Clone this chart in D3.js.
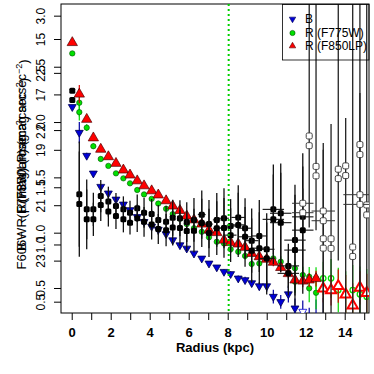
<!DOCTYPE html>
<html>
<head>
<meta charset="utf-8">
<script src="https://cdn.jsdelivr.net/npm/d3@7"></script>
<style>
	body { margin: 0; background: #fff; }
	svg { display: block; font-family: "Liberation Sans", Arial, sans-serif; }
</style>
</head>
<body>
<div class="chart"><svg></svg></div>
<script>
(function() {

	//DATA
	// radii of the R / B profile points (kpc)
	var radius = [0.03,0.39,0.77,1.11,1.49,1.88,2.27,2.65,2.99,3.36,3.71,4.10,4.44,4.84,5.18,5.55,5.90,6.27,6.67,7.04,7.44,7.81,8.15,8.54,8.89,9.23,9.62,10.00,10.34,10.72,11.11,11.45,11.85,12.18,12.53,12.90,13.30,13.67,14.05,14.41,14.78,15.13];

	var redMag = [15.13,16.99,17.90,18.57,18.98,19.25,19.49,19.73,19.91,20.12,20.30,20.48,20.63,20.84,21.03,21.19,21.39,21.53,21.68,21.90,21.99,22.26,22.35,22.40,22.52,22.74,22.86,22.95,23.06,23.25,23.47,23.70,23.74,23.70,23.65,24.01,24.07,23.92,24.22,24.62,23.98,24.17];
	var redErr = [0.05,0.33,0.08,0.06,0.05,0.05,0.05,0.05,0.05,0.05,0.05,0.05,0.05,0.05,0.05,0.06,0.06,0.06,0.07,0.07,0.08,0.08,0.09,0.10,0.10,0.11,0.12,0.13,0.14,0.15,0.17,0.20,0.22,0.25,0.28,0.50,0.55,0.60,0.70,0.80,0.60,0.70];

	var greenMag = [15.52,17.30,18.20,18.87,19.33,19.58,19.85,20.03,20.21,20.45,20.61,20.77,20.94,21.13,21.32,21.49,21.68,21.83,21.96,22.16,22.32,22.38,22.59,22.68,22.83,23.12,23.10,22.92,22.92,23.04,23.22,23.28,23.52,23.58,23.64,23.64,23.64,24.06,24.18,24.06,24.21,24.30];
	var greenErr = [0.05,0.50,0.12,0.10,0.08,0.07,0.06,0.06,0.06,0.06,0.06,0.06,0.06,0.06,0.07,0.07,0.07,0.08,0.08,0.09,0.10,0.10,0.11,0.12,0.13,0.15,0.15,0.17,0.18,0.20,0.22,0.25,0.30,0.35,0.40,0.60,0.70,0.80,0.80,0.90,1.00,1.00];
	var greenExtraR = [0.39,11.45,12.18,12.53];
	var greenExtraMag = [17.64,23.76,24.00,24.16];
	var greenExtraErr = [0.30,0.40,0.50,0.60];

	var blueMag = [17.45,18.38,19.21,19.85,20.33,20.57,20.79,20.97,21.17,21.42,21.60,21.77,21.88,22.04,22.26,22.44,22.56,22.74,22.92,23.10,23.24,23.40,23.48,23.64,23.70,23.81,23.92,23.92,24.30,24.49,24.21,24.72,24.84,25.30,25.30,25.40];
	var blueErr = [0.05,0.38,0.10,0.08,0.06,0.05,0.05,0.05,0.05,0.05,0.05,0.05,0.05,0.05,0.06,0.06,0.06,0.07,0.07,0.08,0.08,0.09,0.10,0.10,0.12,0.13,0.15,0.20,0.25,0.25,0.30,0.35,0.40,0.60,0.90,1.05];

	// colour profile, two estimates per radius (plotted on the mag scale)
	var black1 = [16.87,20.60,21.15,21.15,20.67,20.87,21.03,21.15,21.27,21.11,21.27,21.32,21.53,21.60,21.45,21.47,21.61,21.53,21.34,21.68,21.53,21.47,21.75,21.44,21.83,22.28,22.11,22.59,21.15,21.29,23.19,22.26,21.42];
	var black2 = [17.20,20.96,21.51,21.51,20.99,21.23,21.39,21.51,21.63,21.47,21.60,21.70,21.86,21.90,21.80,21.82,21.93,21.92,21.64,22.00,21.83,21.82,22.08,21.71,22.14,22.64,22.55,22.92,21.51,21.63,23.46,22.62,21.90];
	var blackErr = [0,1.90,1.08,0.60,0.58,0.54,0.47,0.47,0.43,0.50,0.54,0.54,0.54,0.58,0.65,0.65,0.72,0.79,0.87,0.87,0.97,1.08,0.97,1.16,1.08,1.16,1.30,1.30,1.62,1.80,0.80,2.00,2.30];
	var blackXErr = [0,0,0,0,0,0,0,0,0,0,0,0,0,0,0,0,0,0,0.20,0.20,0.20,0.25,0.30,0.35,0.35,0.35,0.40,0.40,0.55,0.55,0.55,0.55,0.55];

	// low S/N colour points (open squares)
	var openR = [11.85,12.18,12.53,12.90,12.90,13.30,13.67,14.05,14.41,14.78,14.78,15.13];
	var openY1 = [20.93,18.50,19.60,21.21,22.21,22.21,19.70,19.58,22.51,18.81,20.62,20.99];
	var openY2 = [21.27,18.85,19.94,21.56,22.55,22.56,20.04,19.93,22.85,19.17,20.97,21.35];
	var openLo = [20.40,13.50,13.50,18.75,19.00,18.07,13.50,17.85,13.50,16.95,13.50,13.50];
	var openHi = [21.80,21.80,21.90,25.00,25.00,25.00,23.00,25.00,25.00,25.00,25.00,25.00];
	var openXErr = [0.55,0,0,0.60,0,0,0,0,0,0,0.85,0];

	var xTicks = [0,1,2,3,4,5,6,7,8,9,10,11,12,13,14,15];
	var magTicks = [15,17,19,21,23];
	var colTicksA = [0.5,1.0,1.5,2.0,2.5,3.0];
	var colTicksB = [0.5,1.0,1.5,2.0,2.5];
	var solarRadius = 8.05;
	var legendLabels = ['B', 'R (F775W)', 'R (F850LP)'];
	var yLabels = ['F606W \u2212 R(F850LP) (mag arcsec', 'B \u2212 R(F775W) (mag arcsec', '\u03bc (mag arcsec'];

	//VARS
	var W = 374, H = 374;
	var box = { left: 61, top: 4, right: 369, bottom: 313 };
	var openFrom = 12.7;
	var colors = { blue: '#0000d8', blueEdge: '#000050', blueBar: '#0000a0',
		green: '#00e000', greenEdge: '#005000', greenBar: '#00d800',
		red: '#ff0000', redEdge: '#500000', redBar: '#e00000' };

	var svg = d3.select('.chart svg').attr('width', W).attr('height', H);

	var x = d3.scaleLinear().domain([-0.549, 15.246]).range([box.left, box.right]);
	var y = d3.scaleLinear().domain([13.736, 24.891]).range([box.top, box.bottom]);
	var yColA = d3.scaleLinear().domain([0.401, 3.102]).range([box.bottom, box.top]);
	var yColB = d3.scaleLinear().domain([0.274, 3.067]).range([box.bottom, box.top]);

	var triUp = d3.symbol().type(d3.symbolTriangle).size(46)();
	var triDown = d3.symbol().type(d3.symbolTriangle).size(27)();

	// AXES
	function drawYAxis(scale, ticks, fmt) {
		var g = svg.append('g')
			.attr('class', 'axis axis--y')
			.attr('transform', 'translate(' + box.left + ',0)')
			.call(d3.axisLeft(scale).tickValues(ticks).tickFormat(fmt).tickSize(7).tickSizeOuter(0));
		g.select('.domain').remove();
		g.attr('font-family', null).attr('font-size', 12);
		g.selectAll('.tick line').attr('stroke', '#000');
		g.selectAll('.tick text')
			.attr('x', 0).attr('dy', 0)
			.attr('fill', '#000')
			.attr('text-anchor', 'middle')
			.attr('transform', 'translate(-16,0) rotate(-90)');
	}

	function drawAxes() {
		var axisX = d3.axisBottom(x)
			.tickValues(xTicks)
			.tickSize(7)
			.tickSizeOuter(0)
			.tickPadding(8)
			.tickFormat(function(d) { return d % 2 === 0 ? d : ''; });

		var gx = svg.append('g')
			.attr('class', 'axis axis--x')
			.attr('transform', 'translate(0,' + box.bottom + ')')
			.call(axisX);
		gx.select('.domain').remove();
		gx.attr('font-family', null).attr('font-size', 13).attr('font-weight', 'bold');
		gx.selectAll('.tick line').attr('stroke', '#000');
		gx.selectAll('.tick text').attr('fill', '#000');

		drawYAxis(y, magTicks, d3.format('d'));
		drawYAxis(yColA, colTicksA, d3.format('.1f'));
		drawYAxis(yColB, colTicksB, d3.format('.1f'));

		svg.append('text')
			.attr('x', (box.left + box.right) / 2)
			.attr('y', 352)
			.attr('text-anchor', 'middle')
			.attr('font-size', 13)
			.attr('font-weight', 'bold')
			.text('Radius (kpc)');

		// three overlapping y titles, as in the original
		var cy = (box.top + box.bottom) / 2 + 6;
		yLabels.forEach(function(lab) {
			var t = svg.append('text')
				.attr('text-anchor', 'middle')
				.attr('font-size', 13)
				.attr('transform', 'translate(26,' + cy + ') rotate(-90)');
			t.append('tspan').text(lab);
			t.append('tspan').attr('dy', '-0.45em').attr('font-size', 9).text('\u22122');
			t.append('tspan').attr('dy', '0.45em').text(')');
		});

		svg.append('rect')
			.attr('x', box.left).attr('y', box.top)
			.attr('width', box.right - box.left).attr('height', box.bottom - box.top)
			.attr('fill', 'none').attr('stroke', '#000');
	}

	// MARKS
	function vBars(g, rs, vals, errs, color, w) {
		g.append('g').selectAll('line')
			.data(vals)
			.enter().append('line')
			.attr('x1', function(d, i) { return x(rs[i]); })
			.attr('x2', function(d, i) { return x(rs[i]); })
			.attr('y1', function(d, i) { return y(d - errs[i]); })
			.attr('y2', function(d, i) { return y(d + errs[i]); })
			.attr('stroke', color)
			.attr('stroke-width', w);
	}

	function hBars(g, rs, vals, errs, color, w) {
		g.append('g').selectAll('line')
			.data(vals)
			.enter().append('line')
			.attr('x1', function(d, i) { return x(rs[i] - errs[i]); })
			.attr('x2', function(d, i) { return x(rs[i] + errs[i]); })
			.attr('y1', function(d) { return y(d); })
			.attr('y2', function(d) { return y(d); })
			.attr('stroke', color)
			.attr('stroke-width', w);
	}

	function squares(g, rs, vals, fill, stroke) {
		g.append('g').selectAll('rect')
			.data(vals)
			.enter().append('rect')
			.attr('x', function(d, i) { return x(rs[i]) - 3; })
			.attr('y', function(d) { return y(d) - 3; })
			.attr('width', 6).attr('height', 6).attr('rx', 1.5)
			.attr('fill', fill)
			.attr('stroke', stroke)
			.attr('stroke-width', 1);
	}

	function drawPoints() {
		svg.append('clipPath').attr('id', 'plot-clip')
			.append('rect')
			.attr('x', box.left).attr('y', box.top)
			.attr('width', box.right - box.left).attr('height', box.bottom - box.top);

		var g = svg.append('g').attr('clip-path', 'url(#plot-clip)');

		// B
		vBars(g, radius, blueMag, blueErr, colors.blueBar, 1.2);
		g.append('g').selectAll('path')
			.data(blueMag)
			.enter().append('path')
			.attr('d', triDown)
			.attr('transform', function(d, i) { return 'translate(' + x(radius[i]) + ',' + y(d) + ') rotate(180)'; })
			.attr('fill', function(d, i) { return radius[i] > 11.8 ? '#fff' : colors.blue; })
			.attr('stroke', function(d, i) { return radius[i] > 11.8 ? colors.blue : colors.blueEdge; })
			.attr('stroke-width', 0.8);

		// R (F775W)
		vBars(g, radius, greenMag, greenErr, colors.greenBar, 1.2);
		vBars(g, greenExtraR, greenExtraMag, greenExtraErr, colors.greenBar, 1.2);
		var greens = greenMag.map(function(d, i) { return { r: radius[i], m: d }; })
			.concat(greenExtraMag.map(function(d, i) { return { r: greenExtraR[i], m: d }; }));
		g.append('g').selectAll('circle')
			.data(greens)
			.enter().append('circle')
			.attr('cx', function(d) { return x(d.r); })
			.attr('cy', function(d) { return y(d.m); })
			.attr('r', 2.7)
			.attr('fill', function(d) { return d.r > openFrom ? 'none' : colors.green; })
			.attr('stroke', function(d) { return d.r > openFrom ? colors.green : colors.greenEdge; })
			.attr('stroke-width', function(d) { return d.r > openFrom ? 1.3 : 0.6; });

		// R (F850LP)
		vBars(g, radius, redMag, redErr, colors.redBar, 1.2);
		g.append('g').selectAll('path')
			.data(redMag)
			.enter().append('path')
			.attr('d', triUp)
			.attr('transform', function(d, i) { return 'translate(' + x(radius[i]) + ',' + y(d) + ')'; })
			.attr('fill', function(d, i) { return radius[i] > openFrom ? '#fff' : colors.red; })
			.attr('stroke', function(d, i) { return radius[i] > openFrom ? colors.red : colors.redEdge; })
			.attr('stroke-width', function(d, i) { return radius[i] > openFrom ? 2 : 0.7; });

		// colour profile, filled
		var blackR = radius.slice(0, black1.length);
		[black1, black2].forEach(function(series) {
			vBars(g, blackR, series, blackErr, '#111', 1.3);
			hBars(g, blackR, series, blackXErr, '#111', 1.1);
			squares(g, blackR, series, '#000', 'none');
		});

		// colour profile, low S/N
		g.append('g').selectAll('line')
			.data(openR)
			.enter().append('line')
			.attr('x1', function(d) { return x(d); })
			.attr('x2', function(d) { return x(d); })
			.attr('y1', function(d, i) { return y(openLo[i]); })
			.attr('y2', function(d, i) { return y(openHi[i]); })
			.attr('stroke', '#222')
			.attr('stroke-width', 1.3);
		[openY1, openY2].forEach(function(series) {
			hBars(g, openR, series, openXErr, '#333', 1);
			squares(g, openR, series, '#fff', '#444');
		});

		// solar radius
		g.append('line')
			.attr('x1', x(solarRadius)).attr('x2', x(solarRadius))
			.attr('y1', box.top).attr('y2', box.bottom)
			.attr('stroke', '#00d000')
			.attr('stroke-width', 2)
			.attr('stroke-dasharray', '2,3');
	}

	function drawLegend() {
		var lg = svg.append('g').attr('class', 'legend');
		lg.append('rect')
			.attr('x', 282.5).attr('y', 4.5)
			.attr('width', box.right - 282.5).attr('height', 55.5)
			.attr('fill', 'none').attr('stroke', '#000').attr('stroke-width', 0.8);

		var rowY = [19, 33, 46];
		legendLabels.forEach(function(lab, i) {
			var cx = 292.5;
			if (i === 0) {
				lg.append('path')
					.attr('d', d3.symbol().type(d3.symbolTriangle).size(18)())
					.attr('transform', 'translate(' + cx + ',' + rowY[i] + ') rotate(180)')
					.attr('fill', colors.blue).attr('stroke', colors.blueEdge).attr('stroke-width', 0.6);
			} else if (i === 1) {
				lg.append('circle')
					.attr('cx', cx).attr('cy', rowY[i]).attr('r', 2.6)
					.attr('fill', colors.green).attr('stroke', colors.greenEdge).attr('stroke-width', 0.6);
			} else {
				lg.append('path')
					.attr('d', d3.symbol().type(d3.symbolTriangle).size(18)())
					.attr('transform', 'translate(' + cx + ',' + rowY[i] + ')')
					.attr('fill', colors.red).attr('stroke', colors.redEdge).attr('stroke-width', 0.6);
			}
			lg.append('text')
				.attr('x', 305)
				.attr('y', rowY[i] + 4)
				.attr('font-size', 12)
				.text(lab);
		});
	}

	function init() {
		drawAxes();
		drawPoints();
		drawLegend();
	}

	init();
})();
</script>
</body>
</html>
